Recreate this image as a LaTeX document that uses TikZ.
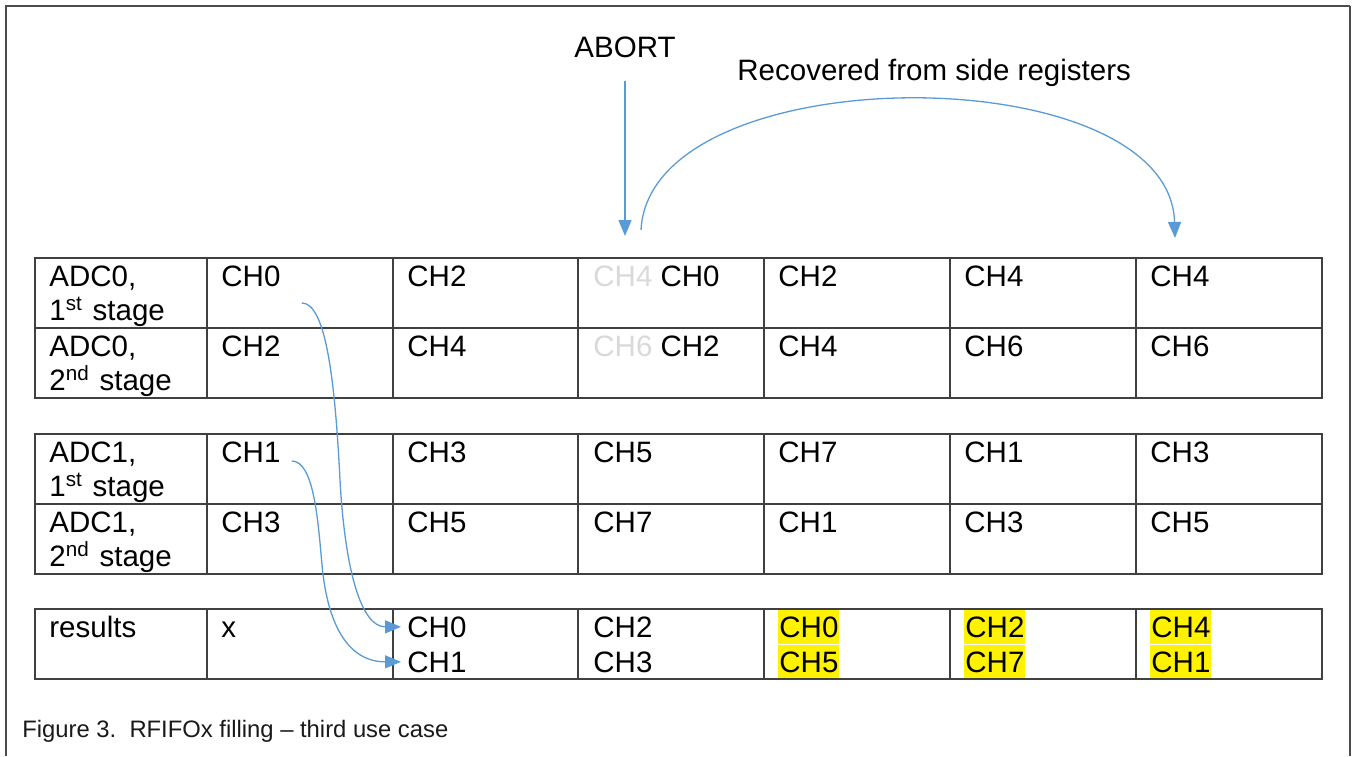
\documentclass[tikz,border=0pt]{standalone}
\usepackage{fontspec}
\setmainfont{Liberation Sans}
\usepackage{tikz}
\usetikzlibrary{arrows.meta,calc,positioning}
\definecolor{flowblue}{HTML}{5B9BD5}
\definecolor{fadedgray}{HTML}{D9D9D9}
\newcommand{\faded}[1]{\textcolor{fadedgray}{#1}}

\begin{document}
\begin{tikzpicture}[x=0.5pt, y=-0.5pt,
	every node/.style={inner sep=0pt, font=\fontsize{14.75}{17.25}\selectfont},
	lab/.style={anchor=base west, text width=80pt},
	val/.style={anchor=base west},
	hl/.style={fill=yellow, inner xsep=0.5pt, text height=13.6pt, text depth=3.3pt},
	grid/.style={draw=black!75, line width=0.7pt},
	flow/.style={draw=flowblue, line width=0.65pt, -{Triangle[length=8pt, width=6.5pt]}}]
	\useasboundingbox (0,0) rectangle (1353,756);

	% Frame
	\draw [black!70, line width=1pt] (6,756) -- (6,6) -- (1350,6);
	\draw [black!70, line width=0.6pt] (1350,6) -- (1350,756);

	% Place nodes
	\node [anchor=base] (abort) at (625,57) {ABORT};
	\node [val] (recovered) at (737,80) {Recovered from side registers};

	\node [lab] (adc0s1) at (49,286) {ADC0,\\1\textsuperscript{st} stage};
	\node [lab] (adc0s2) at (49,356) {ADC0,\\2\textsuperscript{nd} stage};
	\node [lab] (adc1s1) at (49,462) {ADC1,\\1\textsuperscript{st} stage};
	\node [lab] (adc1s2) at (49,532) {ADC1,\\2\textsuperscript{nd} stage};
	\node [lab] (res) at (49,637) {results};

	\foreach \x/\ch [count=\c] in {221/CH0, 407/CH2, 593/{\faded{CH4} CH0}, 778/CH2, 964/CH4, 1150/CH4}
		\node [val] (adc0s1-\c) at (\x,286) {\ch};
	\foreach \x/\ch [count=\c] in {221/CH2, 407/CH4, 593/{\faded{CH6} CH2}, 778/CH4, 964/CH6, 1150/CH6}
		\node [val] (adc0s2-\c) at (\x,356) {\ch};
	\foreach \x/\ch [count=\c] in {221/CH1, 407/CH3, 593/CH5, 778/CH7, 964/CH1, 1150/CH3}
		\node [val] (adc1s1-\c) at (\x,462) {\ch};
	\foreach \x/\ch [count=\c] in {221/CH3, 407/CH5, 593/CH7, 778/CH1, 964/CH3, 1150/CH5}
		\node [val] (adc1s2-\c) at (\x,532) {\ch};

	\node [val] (res-1) at (221,637) {x};
	\foreach \x/\chA/\chB [count=\c from 2] in {407/CH0/CH1, 593/CH2/CH3} {
		\node [val] (resA-\c) at (\x,637) {\chA};
		\node [val] (resB-\c) at (\x,672) {\chB};
	}
	\foreach \x/\chA/\chB [count=\c from 4] in {778/CH0/CH5, 964/CH2/CH7, 1150/CH4/CH1} {
		\node [val, hl] (resA-\c) at (\x,637) {\chA};
		\node [val, hl] (resB-\c) at (\x,672) {\chB};
	}

	\node [anchor=base west, font=\fontsize{11.9}{14}\selectfont, text=black!90] (caption) at (22,737) {Figure 3.\ \ RFIFOx filling -- third use case};

	% Tables
	\foreach \ytop/\ybot in {258/398, 434/574, 609/679} {
		\draw [grid] (35,\ytop) rectangle (1322,\ybot);
		\foreach \x in {207,393,578,764,950,1136}
			\draw [grid] (\x,\ytop) -- (\x,\ybot);
	}
	\draw [grid] (35,328) -- (1322,328);
	\draw [grid] (35,504) -- (1322,504);

	% Draw edges
	\coordinate (abortTip) at (625,236);
	\coordinate (arcFrom) at (641,230);
	\coordinate (arcTo) at (1175,238);
	\coordinate (bendA) at (340,480);
	\coordinate (bendB) at (322,565);
	\draw [flow] ([yshift=-11.5pt]abort.south) -- (abortTip);
	\draw [flow] (arcFrom) .. controls (650,55) and (1170,55) .. (arcTo);
	\draw [flow] ($(adc0s1-1.base east)+(21,17)$) .. controls +(24,0) and +(-5,-100) .. (bendA)
		.. controls +(5,90) and +(-40,0) .. ([xshift=-3pt]resA-2.west);
	\draw [flow] ($(adc1s1-1.base east)+(11,-1)$) .. controls +(22,0) and +(-4,-45) .. (bendB)
		.. controls +(6,65) and +(-50,0) .. ([xshift=-3pt]resB-2.west);
\end{tikzpicture}
\end{document}
